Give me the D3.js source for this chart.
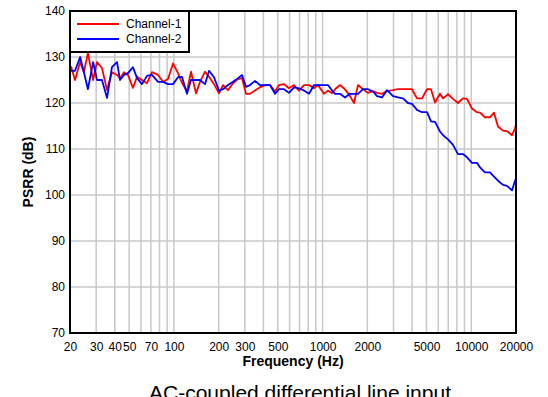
<!DOCTYPE html>
<html>
<head>
<meta charset="utf-8">
<script src="https://cdn.jsdelivr.net/npm/d3@7"></script>
<style>
  body { margin: 0; background: #fff; }
  svg { display: block; font-family: Arial, "Liberation Sans", sans-serif; }
</style>
</head>
<body>
<div id="viz"></div>
<script>
const width = 548;
const height = 397;
const margin = {top: 11, right: 32, bottom: 64, left: 70};

// frequencies (Hz) shared by both channels
const freqs = [20.3, 21.6, 23.4, 24.8, 26.4, 28.6, 30.4, 32.8, 35.5, 38.3,
  41.4, 43.4, 46.2, 49.1, 53.0, 56.5, 61.0, 65.9, 71.2, 78.2,
  84.5, 91.3, 98.6, 106.5, 113.3, 122.4, 130.3, 140.8, 149.8, 161.9,
  172.2, 186.1, 201.0, 213.9, 231.1, 249.7, 269.8, 287.1, 305.4, 324.9,
  351.1, 379.4, 409.9, 442.9, 478.6, 509.2, 550.2, 594.5, 642.4, 694.1,
  750.0, 810.4, 875.6, 931.4, 1022, 1087, 1157, 1212, 1310, 1415,
  1529, 1627, 1731, 1870, 2020, 2183, 2323, 2510, 2713, 2977,
  3216, 3475, 3754, 3994, 4316, 4664, 5039, 5361, 5705, 6164,
  6457, 6977, 7539, 8145, 8801, 9363, 10116, 10930, 11452, 12372,
  13370, 14226, 15131, 16352, 17398, 18797, 19690, 20000];

const channel1 = [128.0, 125.0, 128.9, 126.7, 130.9, 125.0, 128.9, 127.6, 122.8, 126.7,
  126.1, 125.4, 126.7, 126.1, 123.3, 125.7, 125.0, 124.3, 126.7, 126.1,
  124.6, 125.2, 128.6, 126.5, 124.4, 122.5, 126.8, 122.1, 124.6, 126.8,
  125.7, 124.1, 122.1, 123.9, 122.8, 124.3, 125.2, 125.4, 122.0, 122.0,
  122.7, 123.4, 123.9, 123.9, 122.5, 123.9, 124.1, 123.2, 123.9, 122.7,
  123.9, 123.9, 123.2, 123.9, 122.0, 122.7, 122.1, 123.0, 123.9, 123.0,
  121.5, 120.0, 123.9, 123.0, 122.2, 122.6, 122.2, 122.0, 122.6, 122.8,
  123.0, 123.0, 123.0, 123.0, 121.0, 121.0, 123.0, 123.0, 120.1, 122.0,
  121.0, 121.9, 120.9, 120.0, 121.0, 120.9, 118.8, 118.0, 117.9, 116.9,
  116.9, 117.9, 114.9, 114.0, 113.9, 113.0, 114.5, 115.3];

const channel2 = [127.0, 127.0, 130.0, 126.7, 123.0, 128.9, 125.0, 125.0, 121.1, 127.8,
  128.9, 125.0, 126.1, 126.5, 127.8, 125.4, 124.1, 125.9, 126.1, 124.6,
  124.6, 124.1, 124.1, 125.6, 125.7, 122.0, 125.0, 125.0, 125.0, 124.1,
  127.0, 125.6, 122.7, 123.0, 123.9, 124.6, 125.4, 126.1, 123.5, 123.9,
  124.8, 123.9, 123.9, 123.9, 122.0, 123.0, 123.0, 122.2, 123.4, 123.2,
  122.7, 122.0, 123.9, 123.9, 123.9, 123.9, 122.7, 122.0, 122.0, 121.2,
  122.0, 122.0, 122.0, 123.0, 123.0, 122.5, 121.5, 121.2, 122.8, 121.5,
  121.2, 121.0, 120.0, 119.8, 118.5, 118.0, 118.0, 116.0, 115.9, 113.8,
  113.0, 112.1, 110.9, 108.9, 108.9, 108.2, 107.0, 107.0, 106.0, 104.9,
  104.9, 104.0, 103.1, 102.2, 102.0, 101.0, 103.1, 103.6];

const xTickLabels = [20, 30, 40, 50, 70, 100, 200, 300, 500, 1000, 2000, 5000, 10000, 20000];
const yTickLabels = [70, 80, 90, 100, 110, 120, 130, 140];
const seriesNames = ['Channel-1', 'Channel-2'];
const seriesColors = ['#ff0000', '#0000ff'];

const x = d3.scaleLog()
  .domain([20, 20000])
  .range([margin.left, width - margin.right]);

const y = d3.scaleLinear()
  .domain([70, 140])
  .range([height - margin.bottom, margin.top]);

const svg = d3.select('#viz')
  .append('svg')
    .attr('width', width)
    .attr('height', height);

const plotBottom = y(70);

// grid
svg.append('g')
  .selectAll('line')
  .data(x.ticks().filter(d => d > 20 && d < 20000))
  .join('line')
    .attr('x1', d => x(d))
    .attr('x2', d => x(d))
    .attr('y1', y(140))
    .attr('y2', plotBottom)
    .attr('stroke', '#c8c8c8')
    .attr('stroke-width', 1.5);

svg.append('g')
  .selectAll('line')
  .data(yTickLabels.filter(d => d > 70 && d < 140))
  .join('line')
    .attr('x1', x(20))
    .attr('x2', x(20000))
    .attr('y1', d => y(d))
    .attr('y2', d => y(d))
    .attr('stroke', '#c8c8c8')
    .attr('stroke-width', 1.5);

// axes (labels only)
const xAxis = svg.append('g')
  .attr('transform', `translate(0, ${plotBottom})`)
  .call(d3.axisBottom(x).tickValues(xTickLabels).tickFormat(d3.format('d')).tickSize(0).tickPadding(9));
xAxis.select('.domain').remove();
xAxis.selectAll('text').attr('font-size', 12).attr('font-family', 'Arial, "Liberation Sans", sans-serif').attr('fill', '#000');

const yAxis = svg.append('g')
  .attr('transform', `translate(${x(20)}, 0)`)
  .call(d3.axisLeft(y).tickValues(yTickLabels).tickSize(0).tickPadding(5));
yAxis.select('.domain').remove();
yAxis.selectAll('text').attr('font-size', 12).attr('font-family', 'Arial, "Liberation Sans", sans-serif').attr('fill', '#000');

// series
const series = [channel1, channel2];
const line = d3.line()
  .x((d, i) => x(freqs[i]))
  .y(d => y(d));

series.forEach((s, k) => {
  svg.append('path')
    .attr('d', line(s))
    .attr('fill', 'none')
    .attr('stroke', seriesColors[k])
    .attr('stroke-width', 1.8)
    .attr('stroke-linejoin', 'round');
});

// frame
svg.append('rect')
  .attr('x', x(20))
  .attr('y', y(140))
  .attr('width', x(20000) - x(20))
  .attr('height', plotBottom - y(140))
  .attr('fill', 'none')
  .attr('stroke', '#000')
  .attr('stroke-width', 2);

// legend
const legend = svg.append('g').attr('transform', `translate(${x(20)}, ${y(140)})`);
legend.append('rect')
  .attr('width', 119)
  .attr('height', 41)
  .attr('fill', '#fff')
  .attr('stroke', '#000')
  .attr('stroke-width', 2);
seriesNames.forEach((name, i) => {
  legend.append('line')
    .attr('x1', 7).attr('x2', 49)
    .attr('y1', 13 + i * 15).attr('y2', 13 + i * 15)
    .attr('stroke', seriesColors[i])
    .attr('stroke-width', 1.8);
  legend.append('text')
    .attr('x', 56)
    .attr('y', 17 + i * 15)
    .attr('font-size', 12)
    .text(name);
});

// titles
svg.append('text')
  .attr('x', (x(20) + x(20000)) / 2)
  .attr('y', 366)
  .attr('text-anchor', 'middle')
  .attr('font-size', 14)
  .attr('font-weight', 'bold')
  .text('Frequency (Hz)');

svg.append('text')
  .attr('transform', `translate(33, ${(y(70) + y(140)) / 2}) rotate(-90)`)
  .attr('text-anchor', 'middle')
  .attr('font-size', 14)
  .attr('font-weight', 'bold')
  .text('PSRR (dB)');

// caption, clipped by the bottom edge as in the reference
svg.append('text')
  .attr('x', 300)
  .attr('y', 400)
  .attr('text-anchor', 'middle')
  .attr('font-size', 21)
  .text('AC-coupled differential line input');
</script>
</body>
</html>
